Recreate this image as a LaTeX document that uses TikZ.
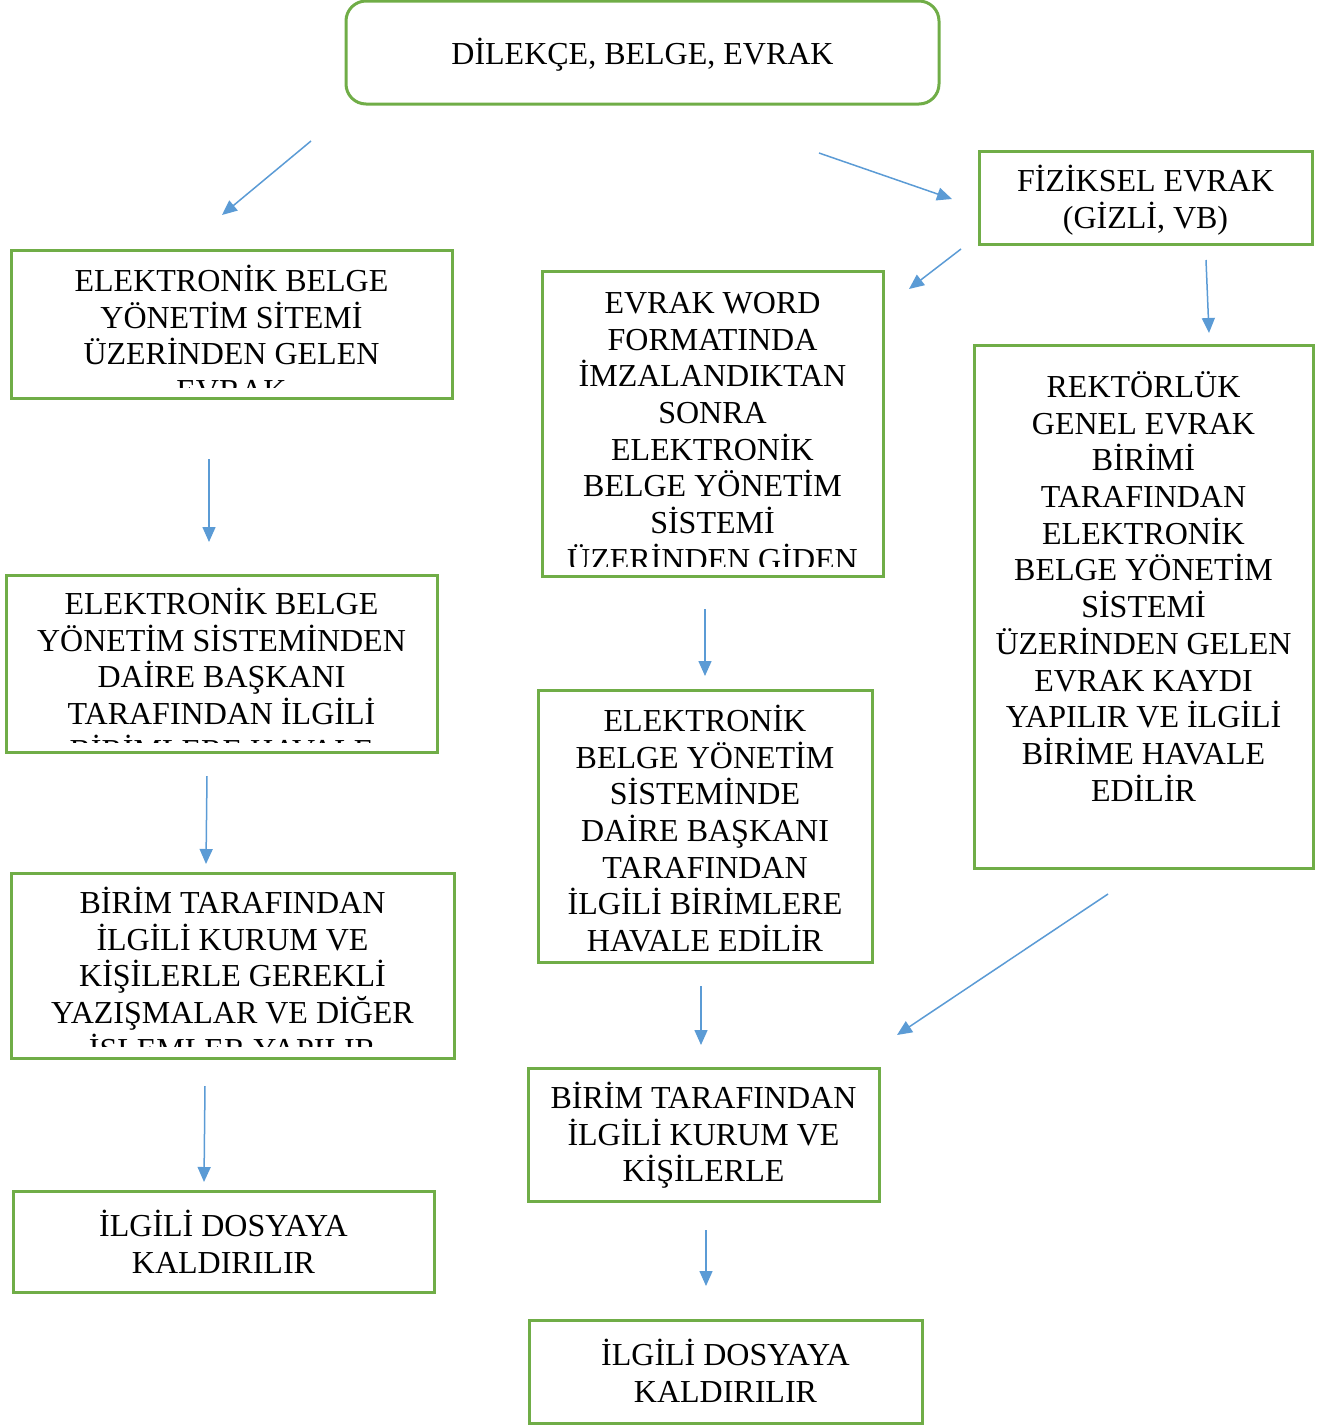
\documentclass[tikz,border=0pt]{standalone}
\usepackage{fontspec}
\setmainfont{Liberation Serif}
\usetikzlibrary{arrows.meta}
\definecolor{boxgreen}{HTML}{70AD47}
\definecolor{arrowblue}{HTML}{5B9BD5}
\begin{document}
\begin{tikzpicture}[x=0.5pt,y=-0.5pt,
  box/.style={draw=boxgreen, line width=1.5pt, rectangle, inner sep=0pt},
  txt/.style={align=center, inner sep=0pt, anchor=north, font=\fontsize{16}{18.35}\selectfont},
  flow/.style={draw=arrowblue, line width=0.75pt, -{Triangle[length=7.5pt,width=6.5pt]}}]
\useasboundingbox (0,0) rectangle (1331,1425);
% boxes
\node[box, rounded corners=10pt, minimum width=593*0.5pt, minimum height=103*0.5pt] (top) at (642.5,52.5) {};
\node[box, minimum width=333*0.5pt, minimum height=93*0.5pt] (fiz) at (1145.5,197.5) {};
\node[box, minimum width=441*0.5pt, minimum height=148*0.5pt] (l1) at (231.5,324) {};
\node[box, minimum width=341*0.5pt, minimum height=305*0.5pt] (m1) at (712.5,423.5) {};
\node[box, minimum width=339*0.5pt, minimum height=523*0.5pt] (rk) at (1143.5,606.5) {};
\node[box, minimum width=431*0.5pt, minimum height=177*0.5pt] (l2) at (221.5,663.5) {};
\node[box, minimum width=334*0.5pt, minimum height=272*0.5pt] (m2) at (705,826) {};
\node[box, minimum width=443*0.5pt, minimum height=185*0.5pt] (l3) at (232.5,965.5) {};
\node[box, minimum width=351*0.5pt, minimum height=133*0.5pt] (m3) at (703.5,1134.5) {};
\node[box, minimum width=421*0.5pt, minimum height=101*0.5pt] (l4) at (223.5,1241.5) {};
\node[box, minimum width=393*0.5pt, minimum height=103*0.5pt] (m4) at (725.5,1371.5) {};
% texts
\node[txt] (ttop) at (642.5,36) {\rule{0pt}{14pt}DİLEKÇE, BELGE, EVRAK};
\node[txt] (tfiz) at (1145.5,163) {\rule{0pt}{14pt}FİZİKSEL EVRAK\\(GİZLİ, VB)};
\begin{scope}
\clip (11,250) rectangle (452,387);
\node[txt] (tl1) at (231.5,263) {\rule{0pt}{14pt}ELEKTRONİK BELGE\\YÖNETİM SİTEMİ\\ÜZERİNDEN GELEN\\EVRAK};
\end{scope}
\begin{scope}
\clip (542,271) rectangle (883,566);
\node[txt] (tm1) at (712.5,285) {\rule{0pt}{14pt}EVRAK WORD\\FORMATINDA\\İMZALANDIKTAN\\SONRA\\ELEKTRONİK\\BELGE YÖNETİM\\SİSTEMİ\\ÜZERİNDEN GİDEN};
\end{scope}
\node[txt] (trk) at (1143.5,369) {\rule{0pt}{14pt}REKTÖRLÜK\\GENEL EVRAK\\BİRİMİ\\TARAFINDAN\\ELEKTRONİK\\BELGE YÖNETİM\\SİSTEMİ\\ÜZERİNDEN GELEN\\EVRAK KAYDI\\YAPILIR VE İLGİLİ\\BİRİME HAVALE\\EDİLİR};
\begin{scope}
\clip (6,575) rectangle (437,742);
\node[txt] (tl2) at (221.5,586) {\rule{0pt}{14pt}ELEKTRONİK BELGE\\YÖNETİM SİSTEMİNDEN\\DAİRE BAŞKANI\\TARAFINDAN İLGİLİ\\BİRİMLERE HAVALE};
\end{scope}
\node[txt] (tm2) at (705,703) {\rule{0pt}{14pt}ELEKTRONİK\\BELGE YÖNETİM\\SİSTEMİNDE\\DAİRE BAŞKANI\\TARAFINDAN\\İLGİLİ BİRİMLERE\\HAVALE EDİLİR};
\begin{scope}
\clip (11,873) rectangle (454,1046);
\node[txt] (tl3) at (232.5,885) {\rule{0pt}{14pt}BİRİM TARAFINDAN\\İLGİLİ KURUM VE\\KİŞİLERLE GEREKLİ\\YAZIŞMALAR VE DİĞER\\İŞLEMLER YAPILIR};
\end{scope}
\node[txt] (tm3) at (703.5,1080) {\rule{0pt}{14pt}BİRİM TARAFINDAN\\İLGİLİ KURUM VE\\KİŞİLERLE};
\node[txt] (tl4) at (223.5,1208) {\rule{0pt}{14pt}İLGİLİ DOSYAYA\\KALDIRILIR};
\node[txt] (tm4) at (725.5,1337) {\rule{0pt}{14pt}İLGİLİ DOSYAYA\\KALDIRILIR};
% arrows
\coordinate (a1s) at (311,141);  \coordinate (a1e) at (222,215);
\coordinate (a2s) at (819,153);  \coordinate (a2e) at (952,199);
\coordinate (a3s) at (961,249);  \coordinate (a3e) at (909,289);
\coordinate (a4s) at (1206,260); \coordinate (a4e) at (1209,333);
\coordinate (a5s) at (209,459);  \coordinate (a5e) at (209,542);
\coordinate (a6s) at (705,609);  \coordinate (a6e) at (705,676);
\coordinate (a7s) at (207,776);  \coordinate (a7e) at (206,864);
\coordinate (a8s) at (701,986);  \coordinate (a8e) at (701,1045);
\coordinate (a9s) at (1108,894); \coordinate (a9e) at (897,1035);
\coordinate (a10s) at (205,1086); \coordinate (a10e) at (204,1182);
\coordinate (a11s) at (706,1230); \coordinate (a11e) at (706,1286);
\foreach \i in {1,...,11} \draw[flow] (a\i s) -- (a\i e);
\end{tikzpicture}
\end{document}
